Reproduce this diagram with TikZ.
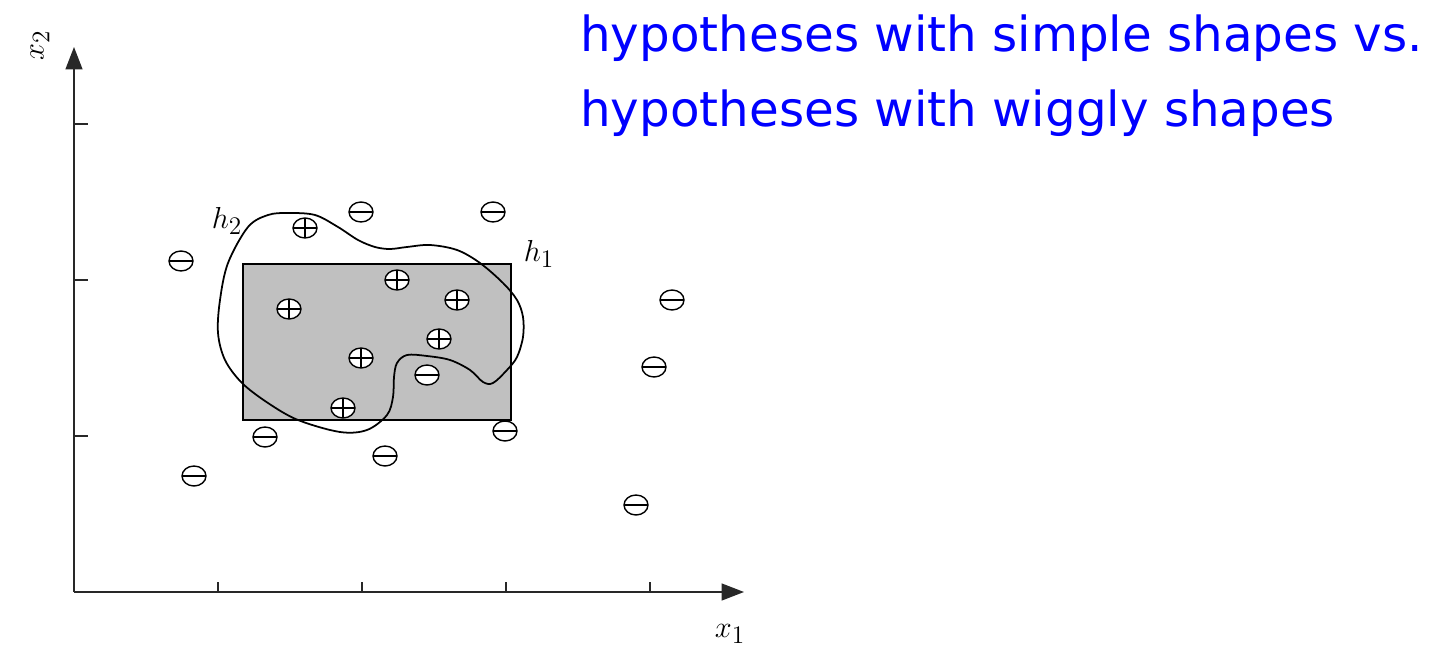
\documentclass[tikz,border=0pt]{standalone}
\usepackage{fontspec}
\usepackage{tikz}
\usetikzlibrary{arrows.meta,shapes.geometric}
\definecolor{titleblue}{RGB}{0,0,255}
\definecolor{boxgray}{RGB}{192,192,192}
\definecolor{axisgray}{RGB}{40,40,40}
\newfontfamily\titlefont{DejaVu Sans}

\begin{document}
\begin{tikzpicture}[x=0.02cm, y=-0.02cm,
        axis/.style={-{Triangle[length=0.45cm, width=0.34cm]}, line width=0.9pt, axisgray},
        tick/.style={line width=0.8pt, axisgray},
        sample/.style={ellipse, draw, line width=0.8pt, fill=white, inner sep=0pt,
                       minimum width=0.48cm, minimum height=0.4cm},
        plussample/.style={sample, path picture={\draw[line width=0.7pt]
                    (path picture bounding box.west) -- (path picture bounding box.east)
                    (path picture bounding box.north) -- (path picture bounding box.south);}},
        minussample/.style={sample, path picture={\draw[line width=0.7pt]
                    (path picture bounding box.west) -- (path picture bounding box.east);}},
        lbl/.style={inner sep=0pt, font=\fontsize{19}{22}\selectfont},
        title/.style={anchor=base west, inner sep=0pt, text=titleblue,
                      font=\titlefont\fontsize{27.5}{42}\selectfont}
    ]
        \useasboundingbox (0,0) rectangle (1439,648);

        % axes
        \coordinate (origin) at (74,592);
        \coordinate (xend) at (744,592);
        \coordinate (yend) at (74,47);
        \draw[axis] (origin) -- (xend);
        \draw[axis] (origin) -- (yend);
        \foreach \x in {218,362,506,650}
            \draw[tick] (\x,592) -- (\x,582);
        \foreach \y in {124,280,436}
            \draw[tick] (74,\y) -- (88,\y);

        \node[lbl] (x1lbl) at (730,634) {$x_1$};
        \node[lbl, rotate=90] (x2lbl) at (40,45) {$x_2$};

        % h1: rectangle
        \draw[fill=boxgray, line width=0.8pt] (243,264) rectangle (511,420);

        % h2: wiggly shape
        \draw[line width=1pt] plot[smooth cycle, tension=0.55] coordinates {
            (288,213) (315,215) (338,227) (358,240) (375,247) (390,249) (407,247)
            (430,245) (457,250) (480,263) (503,283) (517,300) (523,317) (523,337)
            (517,357) (507,370) (493,383) (483,382) (470,370) (450,360) (427,356)
            (407,355) (397,363) (394,377) (393,397) (387,415) (367,430) (340,432)
            (298,420) (268,403) (242,383) (225,360) (218,333) (220,300) (228,263)
            (248,227) (268,215)};

        \node[lbl] (h1lbl) at (539,254) {$h_1$};
        \node[lbl] (h2lbl) at (227,221) {$h_2$};

        % samples
        \foreach \px/\py [count=\i] in {305/228, 397/280, 457/300, 289/309,
                                         439/339, 361/358, 343/408}
            \node[plussample] (p\i) at (\px,\py) {};
        \foreach \px/\py [count=\i] in {361/212, 493/212, 181/261, 672/300, 654/367,
                                         427/375, 265/437, 505/431, 385/456, 194/476, 636/505}
            \node[minussample] (n\i) at (\px,\py) {};

        % title
        \node[title] (line1) at (580,52) {hypotheses with simple shapes vs.};
        \node[title] (line2) at (580,127) {hypotheses with wiggly shapes};
    \end{tikzpicture}
\end{document}
